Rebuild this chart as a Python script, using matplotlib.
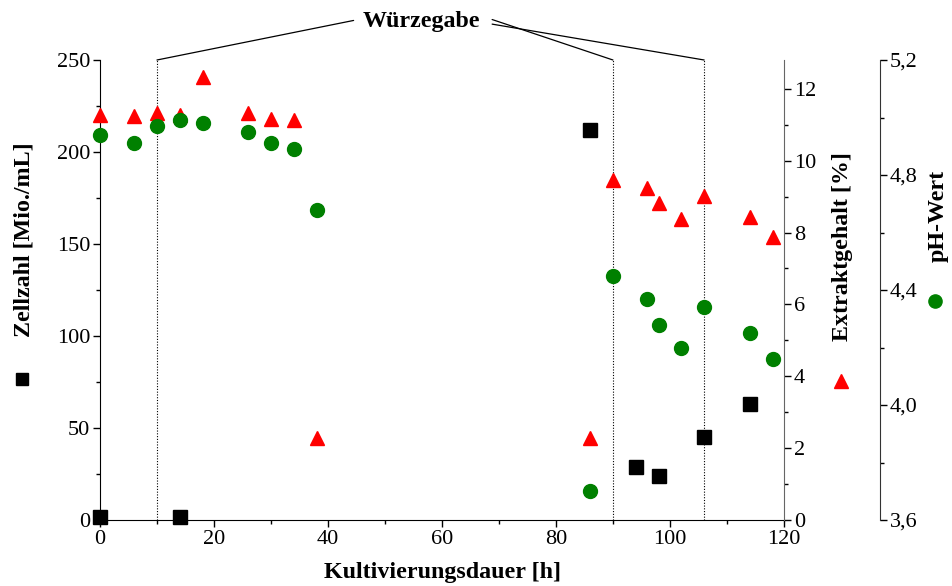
import matplotlib
matplotlib.use("Agg")
import matplotlib.pyplot as plt
from matplotlib.lines import Line2D
from matplotlib.ticker import MultipleLocator, FuncFormatter

plt.rcParams["font.family"] = ["Liberation Serif", "DejaVu Serif"]

# Zellzahl [Mio./mL]
t_zellen = [0, 14, 86, 94, 98, 106, 114]
zellen = [1.5, 1.5, 212, 29, 24, 45, 63]

# Extraktgehalt [%] und pH-Wert, gleiche Probenzeiten
t_proben = [0, 6, 10, 14, 18, 26, 30, 34, 38, 86, 90, 96, 98, 102, 106, 114, 118]
extrakt = [11.28, 11.24, 11.32, 11.28, 12.32, 11.32, 11.17, 11.12, 2.28, 2.28,
           9.45, 9.23, 8.82, 8.38, 9.02, 8.42, 7.87]
ph = [4.94, 4.91, 4.97, 4.99, 4.98, 4.95, 4.91, 4.89, 4.68, 3.70,
      4.45, 4.37, 4.28, 4.20, 4.34, 4.25, 4.16]

# Zeitpunkte der Würzegabe
t_wuerze = [10, 90, 106]

fig = plt.figure(figsize=(9.52, 5.86), dpi=100)
ax = fig.add_axes([0.105, 0.1126, 0.7185, 0.785])
ax2 = ax.twinx()
ax3 = ax.twinx()

# Achsen
ax.set_xlim(0, 120)
ax.set_ylim(0, 250)
ax2.set_ylim(0, 12.8)
ax3.set_ylim(3.6, 5.2)

for a in (ax, ax2, ax3):
    a.spines["top"].set_visible(False)
ax.spines["right"].set_visible(False)
ax2.spines["left"].set_visible(False)
ax3.spines["left"].set_visible(False)
ax2.spines["bottom"].set_visible(False)
ax3.spines["bottom"].set_visible(False)
ax2.spines["right"].set_color("#666666")
ax3.spines["right"].set_color("#333333")
ax3.spines["right"].set_position(("axes", 1.14))

ax.xaxis.set_major_locator(MultipleLocator(20))
ax.xaxis.set_minor_locator(MultipleLocator(10))
ax.yaxis.set_major_locator(MultipleLocator(50))
ax.yaxis.set_minor_locator(MultipleLocator(25))
ax2.yaxis.set_major_locator(MultipleLocator(2))
ax2.yaxis.set_minor_locator(MultipleLocator(1))
ax3.yaxis.set_major_locator(MultipleLocator(0.4))
ax3.yaxis.set_minor_locator(MultipleLocator(0.2))
ax3.yaxis.set_major_formatter(FuncFormatter(lambda v, p: f"{v:.1f}".replace(".", ",")))

for a in (ax, ax2, ax3):
    a.tick_params(which="both", direction="out", labelsize=16, width=1, pad=2)
    a.tick_params(which="major", length=5)
    a.tick_params(which="minor", length=3)

# Würzegabe: gepunktete Linien
ax.vlines(t_wuerze, 0, 250, colors="black", linestyles=(0, (1, 1.5)), lw=0.8, zorder=1)
fig.text(0.443, 0.963, "Würzegabe", ha="center", va="center", fontsize=17.3, fontweight="bold")
starts = [(44.5, 271.5), (68.8, 272.0), (68.8, 269.5)]
for (xs, ys), xw in zip(starts, t_wuerze):
    ax.annotate("", xy=(xw, 250), xytext=(xs, ys), annotation_clip=False,
                arrowprops=dict(arrowstyle="-", color="black", lw=0.9,
                                shrinkA=0, shrinkB=0))

# Messwerte
ax.plot(t_zellen, zellen, "s", color="black", ms=9.5, clip_on=False, zorder=5)
ax2.plot(t_proben, extrakt, "^", color="#ff0000", ms=10.5, clip_on=False, zorder=4)
ax3.plot(t_proben, ph, "o", color="#008000", ms=10, clip_on=False, zorder=3)
ax3.set_zorder(ax.get_zorder() + 2)
ax2.set_zorder(ax.get_zorder() + 1)
ax2.patch.set_visible(False)
ax3.patch.set_visible(False)

# Beschriftungen mit Symbolen
fig.text(0.4653, 0.0222, "Kultivierungsdauer [h]", ha="center", va="center",
         fontsize=17.3, fontweight="bold")
fig.text(0.0252, 0.5904, "Zellzahl [Mio./mL]", rotation=90, ha="center", va="center",
         fontsize=17.3, fontweight="bold")
fig.text(0.8855, 0.580, "Extraktgehalt [%]", rotation=90, ha="center", va="center",
         fontsize=17.3, fontweight="bold")
fig.text(0.9853, 0.6314, "pH-Wert", rotation=90, ha="center", va="center",
         fontsize=17.3, fontweight="bold")
fig.add_artist(Line2D([0.0231], [0.3532], marker="s", color="black", ms=9,
                      transform=fig.transFigure))
fig.add_artist(Line2D([0.8834], [0.3498], marker="^", color="#ff0000", ms=10,
                      transform=fig.transFigure))
fig.add_artist(Line2D([0.9822], [0.4863], marker="o", color="#008000", ms=9.5,
                      transform=fig.transFigure))

fig.savefig("out.png", dpi=100)
